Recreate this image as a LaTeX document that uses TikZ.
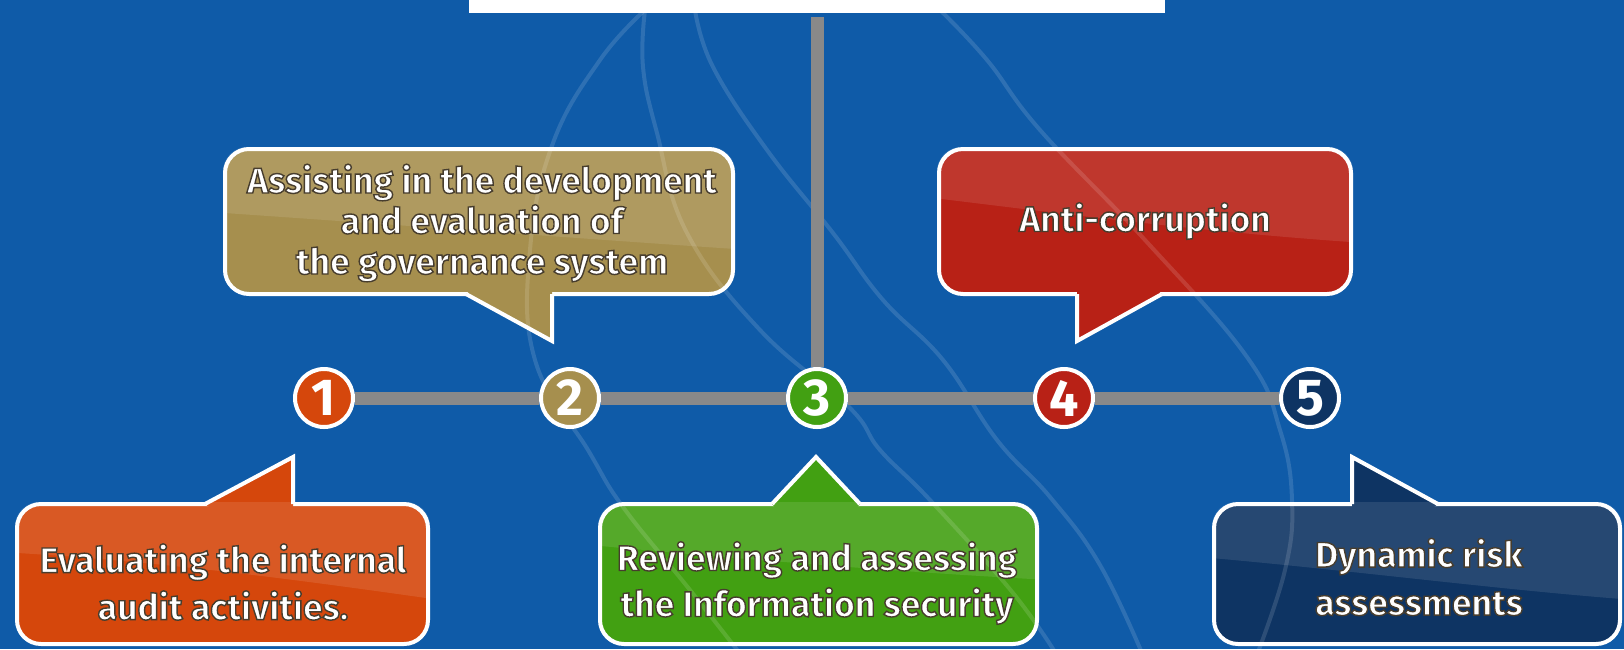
\documentclass[tikz,border=0pt]{standalone}
\usepackage{fontspec}
\setmainfont{Fira Sans}
\definecolor{bgblue}{RGB}{15,91,168}
\definecolor{linegray}{RGB}{137,137,137}
\definecolor{corange}{RGB}{213,71,12}
\definecolor{cgold}{RGB}{166,143,78}
\definecolor{cgreen}{RGB}{66,160,18}
\definecolor{cred}{RGB}{184,33,22}
\definecolor{cnavy}{RGB}{14,52,99}
\newcommand{\outlined}[1]{\special{pdf:literal direct 2 Tr 1.4 w 0.28 0.24 0.18 RG}#1\special{pdf:literal direct 0 Tr}}
\begin{document}
\begin{tikzpicture}[x=1pt,y=-1pt,
  bubble/.style={draw=white, line width=4pt, rounded corners=24pt, inner sep=0pt},
  bubbletext/.style={text=white, align=center, inner sep=0pt},
  tailedge/.style={draw=white, line width=4pt, line join=miter},
  num/.style={circle, draw=white, line width=4pt, minimum size=58pt, inner sep=0pt, text=white, font=\fontsize{52}{52}\selectfont\bfseries},
  conn/.style={draw=linegray, line width=13pt},
  ribbon/.style={draw=white, opacity=0.13, line width=4pt},
  gloss/.style={fill=white, opacity=0.1},
  topbox/.style={fill=white, minimum width=696pt, minimum height=60pt, inner sep=0pt}]
\useasboundingbox (0,0) rectangle (1624,649);
\clip (0,0) rectangle (1624,649);
\fill[bgblue] (0,0) rectangle (1624,649);

% callout boxes
\node[bubble, fill=corange, minimum width=411pt, minimum height=140pt] (b1) at (222.5,574) {};
\node[bubble, fill=cgold,   minimum width=508pt, minimum height=145pt] (b2) at (479,221.5) {};
\node[bubble, fill=cgreen,  minimum width=437pt, minimum height=140pt] (b3) at (818.5,574) {};
\node[bubble, fill=cred,    minimum width=412pt, minimum height=145pt] (b4) at (1145,221.5) {};
\node[bubble, fill=cnavy,   minimum width=406pt, minimum height=140pt] (b5) at (1417,574) {};

% tails
\fill[corange] (205,504) -- (293,457) -- (293,509) -- (212,509) -- cycle;
\draw[tailedge] (205,504) -- (293,457) -- (293,504);
\fill[cgold] (466,294) -- (552,341) -- (552,289) -- (473,289) -- cycle;
\draw[tailedge] (466,294) -- (552,341) -- (552,294);
\fill[cgreen] (772,504) -- (816,457) -- (860,504) -- (856,509) -- (776,509) -- cycle;
\draw[tailedge] (772,504) -- (816,457) -- (860,504);
\fill[cred] (1077,289) -- (1077,341) -- (1162,294) -- (1155,289) -- cycle;
\draw[tailedge] (1077,294) -- (1077,341) -- (1162,294);
\fill[cnavy] (1352,509) -- (1352,457) -- (1438,504) -- (1431,509) -- cycle;
\draw[tailedge] (1352,504) -- (1352,457) -- (1438,504);

% gloss highlights
\begin{scope}
\clip[rounded corners=24pt] (b1.north west) rectangle (b1.south east);
\fill[gloss] (0,490) -- (0,552) .. controls (150,560) and (300,580) .. (440,600) -- (440,490) -- cycle;
\end{scope}
\begin{scope}
\clip[rounded corners=24pt] (b2.north west) rectangle (b2.south east);
\fill[gloss] (210,140) -- (210,212) .. controls (400,225) and (600,240) .. (750,250) -- (750,140) -- cycle;
\end{scope}
\begin{scope}
\clip[rounded corners=24pt] (b3.north west) rectangle (b3.south east);
\fill[gloss] (590,490) -- (590,545) .. controls (750,560) and (900,572) .. (1050,580) -- (1050,490) -- cycle;
\end{scope}
\begin{scope}
\clip[rounded corners=24pt] (b4.north west) rectangle (b4.south east);
\fill[gloss] (925,140) -- (925,197) .. controls (1050,212) and (1200,232) .. (1365,243) -- (1365,140) -- cycle;
\end{scope}
\begin{scope}
\clip[rounded corners=24pt] (b5.north west) rectangle (b5.south east);
\fill[gloss] (1200,490) -- (1200,557) .. controls (1350,570) and (1500,590) .. (1635,600) -- (1635,490) -- cycle;
\end{scope}

% background ribbons
\draw[ribbon] plot[smooth, tension=0.7] coordinates {(645,10) (600,60) (553,143) (530,250) (535,360) (588,450) (623,507) (690,590) (745,660)};
\draw[ribbon] plot[smooth, tension=0.7] coordinates {(645,10) (643,67) (657,133) (687,233) (760,330) (849,407) (880,450) (930,500) (1013,593) (1060,660)};
\draw[ribbon] plot[smooth, tension=0.7] coordinates {(695,10) (713,67) (767,150) (833,233) (883,300) (943,360) (997,440) (1050,497) (1100,565) (1145,660)};
\draw[ribbon] plot[smooth, tension=0.7] coordinates {(940,10) (987,60) (1040,130) (1145,240) (1247,357) (1280,430) (1292,500) (1285,570) (1255,660)};

% texts
\node[bubbletext, font=\fontsize{35.5}{47}\selectfont\bfseries] (t1) at (223,582) {\outlined{Evaluating the internal}\\\outlined{audit activities.}};
\node[bubbletext, font=\fontsize{35.5}{40.5}\selectfont\bfseries] (t2) at (482,223) {\outlined{Assisting in the development}\\\outlined{and evaluation of}\\\outlined{the governance system}};
\node[bubbletext, font=\fontsize{35.5}{46}\selectfont\bfseries] (t3) at (817,583) {\outlined{Reviewing and assessing}\\\outlined{the Information security}};
\node[bubbletext, font=\fontsize{35.5}{40.5}\selectfont\bfseries] (t4) at (1145,221) {\outlined{Anti-corruption}};
\node[bubbletext, font=\fontsize{35.5}{48}\selectfont\bfseries] (t5) at (1419,577) {\outlined{Dynamic risk}\\\outlined{assessments}};

% top box
\node[topbox, anchor=south] (top) at (817,13) {};

% numbered circles
\node[num, fill=corange] (n1) at (324,398) {1};
\node[num, fill=cgold]   (n2) at (570,398) {2};
\node[num, fill=cgreen]  (n3) at (817,398) {3};
\node[num, fill=cred]    (n4) at (1064,398) {4};
\node[num, fill=cnavy]   (n5) at (1310,398) {5};

% connectors
\draw[conn] (n1) -- (n2);
\draw[conn] (n2) -- (n3);
\draw[conn] (n3) -- (n4);
\draw[conn] (n4) -- (n5);
\draw[conn, shorten <=4pt] (top) -- (n3);
\end{tikzpicture}
\end{document}
